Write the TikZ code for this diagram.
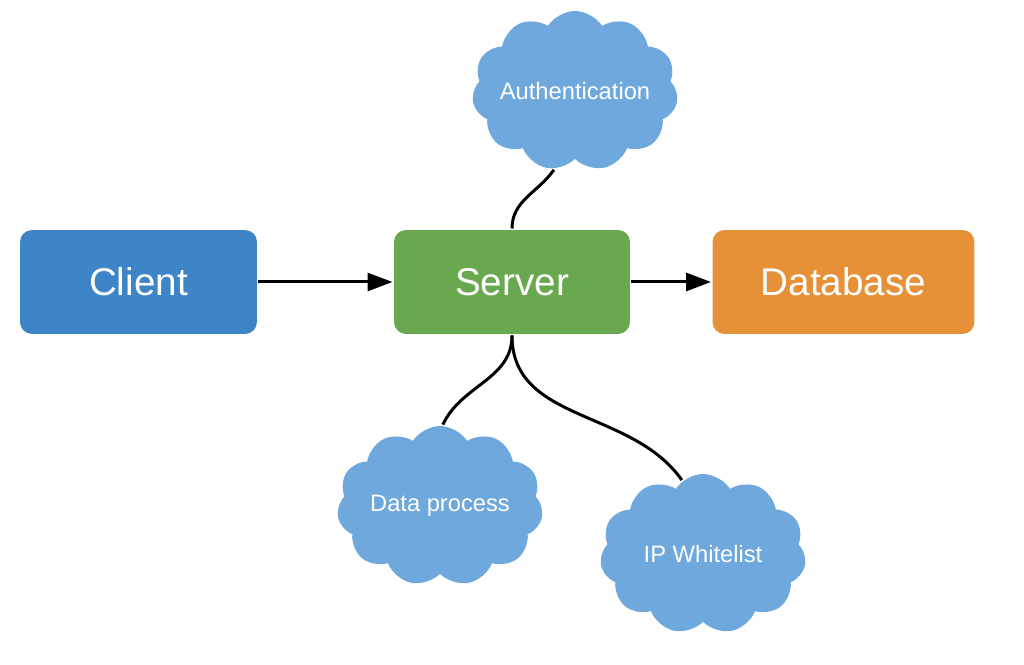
\documentclass[tikz,border=0pt]{standalone}
\usepackage{fontspec}
\setmainfont{Liberation Sans}
\usetikzlibrary{arrows.meta, shapes.symbols}

\definecolor{clientblue}{HTML}{3D85C6}
\definecolor{servergreen}{HTML}{6AA84F}
\definecolor{dborange}{HTML}{E69138}
\definecolor{cloudblue}{HTML}{6FA8DC}

\begin{document}
\begin{tikzpicture}[x=0.02cm, y=0.02cm, line width=1.7pt,
>={Triangle[length=0.5cm,width=0.36cm]},
main node/.style={rectangle,rounded corners=0.24cm,minimum height=2.08cm,
  text=white,font=\fontsize{22}{26}\selectfont},
cloud node/.style={cloud,cloud puffs=11,cloud puff arc=115,aspect=1.3,
  fill=cloudblue,minimum width=4.12cm,minimum height=3.2cm,
  inner xsep=-1.2cm,inner ysep=0pt,
  text=white,font=\fontsize{13.5}{16}\selectfont}]
\useasboundingbox (0, 0) rectangle (1024, 665);
\node[main node,fill=clientblue,minimum width=4.74cm] (1) at (138.5, 383) {Client};
\node[main node,fill=servergreen,minimum width=4.72cm] (2) at (512, 383) {Server};
\node[main node,fill=dborange,minimum width=5.24cm] (3) at (843.5, 383) {Database};
\node[cloud node] (4) at (575, 574) {Authentication};
\node[cloud node] (5) at (440, 159) {Data process};
\node[cloud node] (6) at (703, 111) {IP Whitelist};
\draw[->] (1) -- (2);
\draw[->] (2) -- (3);
\draw (2.north) to[out=90, in=-125] (4.255);
\draw (2.south) to[out=-90, in=65] (5.88);
\draw (2.south) to[out=-90, in=125] (6.106);
\end{tikzpicture}
\end{document}
